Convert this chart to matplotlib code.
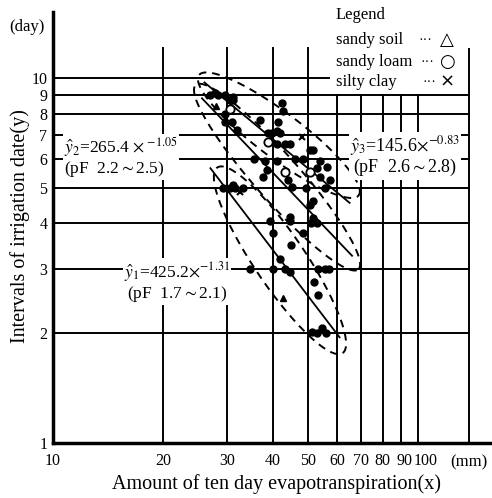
import numpy as np
import matplotlib
matplotlib.use("Agg")
import matplotlib.pyplot as plt
from matplotlib.transforms import ScaledTranslation

plt.rcParams['font.family'] = ['Liberation Serif', 'DejaVu Sans']
plt.rcParams['mathtext.fontset'] = 'stix'

# data
dots_x = [26.9, 28.3, 29.6, 31.2, 27.8, 31.2, 29.6, 29.6, 31.0, 36.9, 38.8, 41.8, 42.7, 30.6,
          41.1, 44.5, 31.9, 39.8, 41.0, 43.2, 38.0, 41.0, 46.0, 51.6, 52.9, 38.5, 37.6, 44.0,
          45.2, 53.8, 55.5, 31.1, 33.1, 29.2, 30.6, 31.5, 39.3, 44.5, 48.3, 45.0, 41.8, 40.0,
          43.2, 44.5, 53.2, 55.5, 57.0, 52.0, 53.2, 34.6, 51.2, 52.9, 54.6, 56.1, 42.4, 41.4,
          50.6, 56.3, 53.8, 35.5, 48.5, 49.5, 50.5, 51.0, 53.0, 44.5, 51.6, 51.6, 57.4, 40.0]
dots_y = [9.0, 9.0, 9.0, 8.9, 9.1, 8.7, 8.0, 7.6, 7.6, 7.7, 7.1, 7.1, 8.15, 8.7,
          7.15, 6.6, 7.2, 7.1, 6.6, 6.6, 5.95, 5.95, 6.0, 6.35, 5.66, 5.6, 5.35, 5.25,
          5.03, 5.35, 5.0, 5.1, 5.0, 5.0, 5.0, 5.0, 4.07, 4.07, 3.76, 3.48, 3.2, 3.0,
          3.0, 2.95, 3.0, 3.0, 3.0, 2.76, 2.55, 3.0, 2.01, 2.0, 2.07, 2.0, 8.55, 7.6,
          6.35, 5.7, 5.95, 6.0, 6.0, 5.0, 4.5, 4.0, 4.0, 4.16, 4.6, 4.13, 5.25, 3.76]
circ_x = [30.6, 38.8, 43.3, 50.6]
circ_y = [8.26, 6.68, 5.53, 5.53]
tri_x = [42.7, 28.0]
tri_y = [2.5, 8.4]
cross_x = [32.6, 48.0]
cross_y = [4.87, 6.9]

# regression curves y = a * x^b and the x range they are drawn over
reg_a = [425.2, 265.4, 145.6]
reg_b = [-1.31, -1.05, -0.83]
reg_xmin = [27.0, 25.6, 26.0]
reg_xmax = [61.0, 66.0, 65.0]

# dashed ellipses (in log10 units): centre, half axes, angle
ell_cx = [1.622, 1.614, 1.619]
ell_cy = [0.501, 0.729, 0.844]
ell_a = [0.307, 0.337, 0.274]
ell_b = [0.070, 0.062, 0.062]
ell_ang = [-56, -48.6, -37]

grid_x = [20, 30, 40, 50, 60, 70, 80, 90, 100, 138]
grid_x_top = [12.1, 12.1, 12.1, 12.1, 9.0, 9.0, 9.0, 9.0, 9.0, 12.0]
grid_y = [2, 3, 4, 5, 6, 7, 8, 9, 10]
xticks = [10, 20, 30, 40, 50, 60, 70, 80, 90, 100]
yticks = [1, 2, 3, 4, 5, 6, 7, 8, 9, 10]

W, H = 492, 498
fig = plt.figure(figsize=(W / 100, H / 100), dpi=100)
ax = fig.add_axes([53 / W, 55 / H, 439 / W, 431 / H])
ax.set_xscale('log')
ax.set_yscale('log')
ax.set_xlim(10, 159.6)
ax.set_ylim(1, 15.2)

for gx, top in zip(grid_x, grid_x_top):
    ax.plot([gx, gx], [1, top], color='black', lw=1.4, zorder=1)
for gy in grid_y:
    right = 57.4 if gy == 10 else 138
    ax.plot([10, right], [gy, gy], color='black', lw=1.4, zorder=1)

for a, b, x0, x1 in zip(reg_a, reg_b, reg_xmin, reg_xmax):
    xs = np.array([x0, x1])
    ax.plot(xs, a * xs ** b, color='black', lw=1.3, zorder=2)

t = np.linspace(0, 2 * np.pi, 200)
for cx, cy, a, b, ang in zip(ell_cx, ell_cy, ell_a, ell_b, ell_ang):
    th = np.radians(ang)
    lx = cx + a * np.cos(t) * np.cos(th) - b * np.sin(t) * np.sin(th)
    ly = cy + a * np.cos(t) * np.sin(th) + b * np.sin(t) * np.cos(th)
    ax.plot(10 ** lx, 10 ** ly, color='black', lw=1.4, dashes=(4, 3), zorder=2)

ax.plot(dots_x, dots_y, 'o', color='black', ms=5, zorder=3)
ax.plot(circ_x, circ_y, 'o', mfc='white', mec='black', mew=1.3, ms=6, zorder=3)
ax.plot(tri_x, tri_y, '^', color='black', ms=5, zorder=3)
ax.plot(cross_x, cross_y, 'x', color='black', mew=1.5, ms=5, zorder=3)

for s in ['top', 'right']:
    ax.spines[s].set_visible(False)
ax.spines['left'].set_linewidth(2.5)
ax.spines['bottom'].set_linewidth(2.5)

ax.set_xticks(xticks)
ax.set_xticklabels([str(v) for v in xticks])
ax.set_yticks(yticks)
ax.set_yticklabels([str(v) for v in yticks])
ax.minorticks_off()
ax.tick_params(length=0, labelsize=11.5)
ax.tick_params(axis='y', pad=4)
ax.tick_params(axis='x', pad=7)
# the printed 90 and 100 sit a little right of their lines
for lab, dx in zip(ax.get_xticklabels()[-2:], [3, 8]):
    lab.set_transform(lab.get_transform() + ScaledTranslation(dx / 100, 0, fig.dpi_scale_trans))


def fx(px):
    return px / W


def fy(py):
    return 1 - py / H


box = dict(facecolor='white', edgecolor='none', pad=1)
fig.text(fx(469), fy(462), '(mm)', fontsize=12, ha='center', va='center')
fig.text(fx(27), fy(27), '(day)', fontsize=12, ha='center', va='center')
fig.text(fx(277), fy(484), 'Amount of ten day evapotranspiration(x)', fontsize=14.5,
         ha='center', va='center')
fig.text(fx(20), fy(226), 'Intervals of irrigation date(y)', fontsize=14.5,
         ha='center', va='center', rotation=90)

# legend block
fig.patches.append(plt.Rectangle((fx(330), fy(92)), (465 - 330) / W, 92 / H,
                                 transform=fig.transFigure, facecolor='white',
                                 edgecolor='none', zorder=2))
fig.text(fx(336), fy(15), 'Legend', fontsize=12, va='center')
for py, name, dots_x0, sym in [(40, 'sandy soil', 418, '△'), (62, 'sandy loam', 420, '○'),
                               (82, 'silty clay', 423, '×')]:
    fig.text(fx(336), fy(py), name, fontsize=12, va='center')
    fig.text(fx(dots_x0), fy(py), '···', fontsize=10, va='center', ha='left')
    fig.text(fx(447), fy(py), sym, fontsize=13, va='center', ha='center',
             family='DejaVu Sans')

# regression labels
fig.text(fx(64), fy(157), '$\\hat{y}_2$=265.4$\\,\\times^{-1.05}$\n(pF  2.2$\\sim$2.5)',
         fontsize=12.5, va='center', ha='left', linespacing=0.95, bbox=box)
fig.text(fx(405), fy(156), '$\\hat{y}_3$=145.6$\\times^{-0.83}$\n(pF  2.6$\\sim$2.8)',
         fontsize=13, va='center', ha='center', multialignment='center',
         linespacing=0.95, bbox=box)
fig.text(fx(177), fy(282), '$\\hat{y}_1$=425.2$\\times^{-1.31}$\n(pF  1.7$\\sim$2.1)',
         fontsize=12.5, va='center', ha='center', multialignment='center',
         linespacing=0.95, bbox=box)

fig.savefig('out.png', dpi=100)
